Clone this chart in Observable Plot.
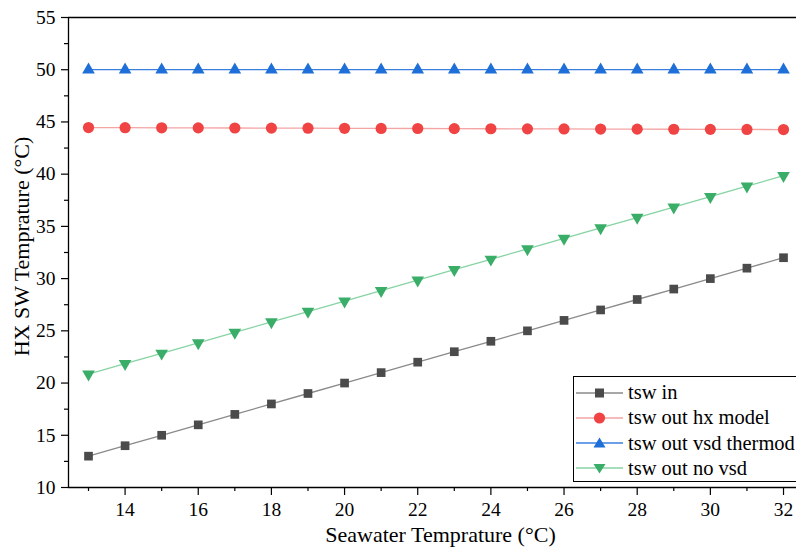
<!DOCTYPE html>
<html>
<head>
<meta charset="utf-8">
<script src="https://cdn.jsdelivr.net/npm/d3@7"></script>
<script src="https://cdn.jsdelivr.net/npm/@observablehq/plot@0.6"></script>
<style>
  html, body { margin: 0; padding: 0; background: #fff; }
  #wrap { position: relative; width: 796px; height: 555px; font-family: "Liberation Serif", serif; }
  #wrap svg text { font-family: "Liberation Serif", serif; }
  #legend { position: absolute; left: 573px; top: 376px; width: 240px; height: 106px; border: 1.3px solid #000; background: #fff; box-sizing: border-box; }
  .row { position: absolute; left: 0; height: 25px; display: flex; align-items: center; font-size: 20.5px; color: #000; white-space: nowrap; }
  .row svg { margin-left: 2px; margin-right: 5px; }
</style>
</head>
<body>
<div id="wrap"></div>
<script>
const temps       = [13,14,15,16,17,18,19,20,21,22,23,24,25,26,27,28,29,30,31,32];
const tswIn       = [13,14,15,16,17,18,19,20,21,22,23,24,25,26,27,28,29,30,31,32];
const tswOutHx    = [44.46,44.45,44.44,44.43,44.42,44.41,44.40,44.39,44.38,44.37,44.36,44.35,44.34,44.33,44.32,44.31,44.30,44.29,44.28,44.27];
const tswOutVsd   = [50,50,50,50,50,50,50,50,50,50,50,50,50,50,50,50,50,50,50,50];
const tswOutNoVsd = [20.85,21.85,22.85,23.85,24.85,25.85,26.85,27.85,28.85,29.85,30.85,31.85,32.85,33.85,34.85,35.85,36.85,37.85,38.85,39.85];

const seriesNames = ["tsw in", "tsw out hx model", "tsw out vsd thermod", "tsw out no vsd"];
const seriesValues = [tswIn, tswOutHx, tswOutVsd, tswOutNoVsd];
const markerFill = ["#4b4b4b", "#f04444", "#1f6fd8", "#3aae68"];
const lineStroke = ["#8a8a8a", "#f5a3a3", "#3a7fe0", "#86d3a3"];
const symbols = ["square", "circle", "triangle", "triangle"];
const rotations = [0, 0, 0, 180];
const radii = [4.9, 5.6, 4.7, 4.7];

const xMajor = [14,16,18,20,22,24,26,28,30,32];
const xMinor = [13,15,17,19,21,23,25,27,29,31];
const yMajor = [10,15,20,25,30,35,40,45,50,55];
const yMinor = [12.5,17.5,22.5,27.5,32.5,37.5,42.5,47.5,52.5];

const rows = seriesNames.flatMap((name, i) => temps.map((t, j) => ({series: i, name, x: t, y: seriesValues[i][j]})));

const marks = [];
seriesNames.forEach((name, i) => {
  const d = rows.filter(r => r.series === i);
  marks.push(Plot.line(d, {x: "x", y: "y", stroke: lineStroke[i], strokeWidth: 1.3}));
});
seriesNames.forEach((name, i) => {
  const d = rows.filter(r => r.series === i);
  marks.push(Plot.dot(d, {x: "x", y: "y", symbol: symbols[i], r: radii[i], fill: markerFill[i], stroke: "none", rotate: rotations[i]}));
});

const FONT = "Liberation Serif, serif";
const chart = Plot.plot({
  width: 796,
  height: 555,
  marginLeft: 68,
  marginRight: 0,
  marginTop: 17,
  marginBottom: 68,
  style: {fontFamily: FONT, fontSize: "19px", color: "#000", background: "#fff"},
  x: {domain: [12.453, 32.355], label: null},
  y: {domain: [10, 55], label: null},
  marks: [
    Plot.axisX({ticks: xMajor, tickSize: 8, tickPadding: 7, tickFormat: d => String(d), fontSize: 19.5, fontFamily: FONT, strokeWidth: 1.2}),
    Plot.axisX({ticks: xMinor, tickSize: 4, tickFormat: () => "", strokeWidth: 1.2}),
    Plot.axisY({ticks: yMajor, tickSize: 7, tickPadding: 6, tickFormat: d => String(d), fontSize: 19.5, fontFamily: FONT, strokeWidth: 1.2}),
    Plot.axisY({ticks: yMinor, tickSize: 4, tickFormat: () => "", strokeWidth: 1.2}),
    Plot.ruleY([10], {stroke: "#000", strokeWidth: 1.3}),
    Plot.ruleY([55], {stroke: "#000", strokeWidth: 1.3}),
    Plot.ruleX([12.453], {stroke: "#000", strokeWidth: 1.3}),
    ...marks,
    Plot.text(["Seawater Temprature (°C)"], {frameAnchor: "bottom", textAnchor: "middle", dy: 54, dx: 8, text: d => d, fontSize: 22, fontFamily: FONT}),
    Plot.text(["HX SW Temprature (°C)"], {frameAnchor: "left", textAnchor: "middle", dx: -47, dy: -6, rotate: -90, text: d => d, fontSize: 22, fontFamily: FONT})
  ]
});
const wrap = document.getElementById("wrap");
wrap.appendChild(chart);

// legend
const legend = document.createElement("div");
legend.id = "legend";
const sym = (i) => {
  const c = markerFill[i];
  if (symbols[i] === "square") return `<rect x="19" y="7.5" width="9" height="9" fill="${c}"/>`;
  if (symbols[i] === "circle") return `<circle cx="23.5" cy="12" r="5.6" fill="${c}"/>`;
  if (rotations[i] === 180) return `<path d="M17.5,8 L29.5,8 L23.5,17.5 Z" fill="${c}"/>`;
  return `<path d="M17.5,16.5 L29.5,16.5 L23.5,6.5 Z" fill="${c}"/>`;
};
seriesNames.forEach((name, i) => {
  const row = document.createElement("div");
  row.className = "row";
  row.style.top = (3 + i * 25.3) + "px";
  row.innerHTML = `<svg width="47" height="24"><line x1="0" x2="47" y1="12" y2="12" stroke="${lineStroke[i]}" stroke-width="1.3"/>${sym(i)}</svg><span>${name}</span>`;
  legend.appendChild(row);
});
wrap.appendChild(legend);
</script>
</body>
</html>
